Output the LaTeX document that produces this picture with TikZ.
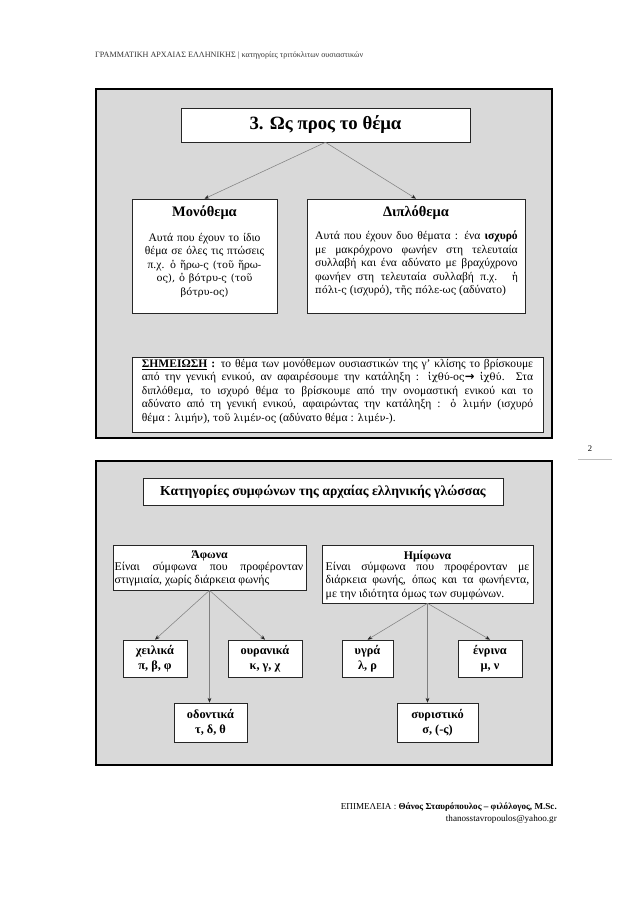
\documentclass[tikz,border=0pt]{standalone}
\usepackage{fontspec}
\setmainfont{Liberation Serif}
\newfontfamily\polyf{DejaVu Serif}[Scale=0.86]
\newfontfamily\symf{DejaVu Sans}
\usetikzlibrary{arrows.meta,fit}
\newcommand\pg[1]{{\polyf #1}}
\definecolor{panelgray}{RGB}{217,217,217}
\tikzset{
  panel/.style={draw=black, line width=1pt, fill=panelgray, inner sep=0pt},
  frame/.style={draw=black!85, line width=0.6pt, fill=white, inner sep=0pt},
  leaftext/.style={font=\bfseries\fontsize{11.5}{14}\selectfont, align=center, inner sep=0pt},
  conn/.style={draw=gray, line width=0.5pt, -{Stealth[length=4.5pt,width=3.5pt,color=black!85]}},
  ttl/.style={font=\bfseries\fontsize{13.5}{15}\selectfont, inner sep=0pt},
  ttltwo/.style={font=\bfseries\fontsize{11}{12}\selectfont, inner sep=0pt},
  body/.style={font=\fontsize{10.8}{12.6}\selectfont, inner sep=0pt, align=justify},
  bodytwo/.style={font=\fontsize{11}{12.4}\selectfont, inner sep=0pt, align=justify},
  small/.style={font=\fontsize{7.6}{8}\selectfont, inner sep=0pt}
}
\begin{document}
\begin{tikzpicture}[x=0.9331pt,y=-0.9331pt]
\useasboundingbox[fill=white] (0,0) rectangle (638,903);

% header
\node[small, anchor=west, text=black!80] (hdr) at (95,56) {ΓΡΑΜΜΑΤΙΚΗ ΑΡΧΑΙΑΣ ΕΛΛΗΝΙΚΗΣ | κατηγορίες τριτόκλιτων ουσιαστικών};

% ---------- panel 1 ----------
\node[panel, fit={(96,89)(552,438)}] (p1) {};
\node[frame, fit={(181,108)(470,142)}] (t1) {};
\node[font=\bfseries\fontsize{17.5}{19}\selectfont, inner sep=0pt] (t1txt) at (t1.center) {3. Ως προς το θέμα};

\node[frame, fit={(132,199)(277,313)}] (mono) {};
\node[ttl] (monot) at (204.5,213) {Μονόθεμα};
\node[body, align=center, text width=138pt, anchor=north] (monob) at (204.5,233)
 {Αυτά που έχουν το ίδιο\\ θέμα σε όλες τις πτώσεις\\ π.χ. \pg{ὁ ἥρω-ς (τοῦ ἥρω-}\\ \pg{ος), ὁ βότρυ-ς (τοῦ}\\ \pg{βότρυ-ος)}};

\node[frame, fit={(307,199)(525,313)}] (dipl) {};
\node[ttl] (diplt) at (416,213) {Διπλόθεμα};
\node[body, text width=189pt, anchor=north] (diplb) at (416.5,231)
 {Αυτά που έχουν δυο θέματα : ένα \textbf{ισχυρό}\linebreak
  με μακρόχρονο φωνήεν στη τελευταία\linebreak
  συλλαβή και ένα αδύνατο με βραχύχρονο\linebreak
  φωνήεν στη τελευταία συλλαβή π.χ. \pg{ἡ}\linebreak
  \pg{πόλι-ς} (ισχυρό), \pg{τῆς πόλε-ως} (αδύνατο)};

\node[frame, fit={(132,357)(543,432)}] (note) {};
\node[body, text width=365pt, anchor=north] (noteb) at (337.5,359)
 {\textbf{\underline{ΣΗΜΕΙΩΣΗ} :} το θέμα των μονόθεμων ουσιαστικών της γ' κλίσης το βρίσκουμε\linebreak
  από την γενική ενικού, αν αφαιρέσουμε την κατάληξη : \pg{ἰχθύ-ος}{\symf\bfseries →} \pg{ἰχθύ}. Στα\linebreak
  διπλόθεμα, το ισχυρό θέμα το βρίσκουμε από την ονομαστική ενικού και το\linebreak
  αδύνατο από τη γενική ενικού, αφαιρώντας την κατάληξη : \pg{ὁ λιμήν} (ισχυρό\linebreak
  θέμα : \pg{λιμήν}), \pg{τοῦ λιμέν-ος} (αδύνατο θέμα : \pg{λιμέν-}).};

\draw[conn] (t1.south) -- (mono.north);
\draw[conn] (t1.south) -- (dipl.north);

% page number
\node[font=\fontsize{8}{9}\selectfont, inner sep=0pt] (pnum) at (590,449) {2};
\coordinate (rl1) at (578,459);
\coordinate (rl2) at (612,459);
\draw[black!25, line width=0.4pt] (rl1) -- (rl2);

% ---------- panel 2 ----------
\node[panel, fit={(96,461)(552,765)}] (p2) {};
\node[frame, fit={(143,478)(503,505)}] (t2) {};
\node[font=\bfseries\fontsize{12.8}{14}\selectfont, inner sep=0pt] (t2txt) at (t2.center) {Κατηγορίες συμφώνων της αρχαίας ελληνικής γλώσσας};

\node[frame, fit={(113,545)(306,590)}] (afw) {};
\node[ttltwo] (afwt) at (209.5,556) {Άφωνα};
\node[bodytwo, text width=176pt, anchor=north] (afwb) at (209,562)
 {Είναι σύμφωνα που προφέρονταν\linebreak στιγμιαία, χωρίς διάρκεια φωνής};

\node[frame, fit={(322,545)(533,603)}] (hmi) {};
\node[ttltwo] (hmit) at (427.5,556) {Ημίφωνα};
\node[bodytwo, text width=190pt, anchor=north] (hmib) at (427.5,562)
 {Είναι σύμφωνα που προφέρονταν με\linebreak διάρκεια φωνής, όπως και τα φωνήεντα,\linebreak με την ιδιότητα όμως των συμφώνων.};

\node[frame, fit={(123,640)(187,677)}] (xeil) {};
\node[leaftext] (xeilt) at (xeil.center) {χειλικά\\π, β, φ};
\node[frame, fit={(228,640)(302,677)}] (oyr) {};
\node[leaftext] (oyrt) at (oyr.center) {ουρανικά\\κ, γ, χ};
\node[frame, fit={(174,703)(247,742)}] (odon) {};
\node[leaftext] (odont) at (odon.center) {οδοντικά\\τ, δ, θ};
\node[frame, fit={(342,640)(393,677)}] (ygr) {};
\node[leaftext] (ygrt) at (ygr.center) {υγρά\\λ, ρ};
\node[frame, fit={(458,640)(522,677)}] (enr) {};
\node[leaftext] (enrt) at (enr.center) {ένρινα\\μ, ν};
\node[frame, fit={(397,703)(478,742)}] (syr) {};
\node[leaftext] (syrt) at (syr.center) {συριστικό\\σ, (-ς)};

\draw[conn] (afw.south) -- (xeil.north);
\draw[conn] (afw.south) -- (afw.south |- odon.north);
\draw[conn] (afw.south) -- (oyr.north);
\draw[conn] (hmi.south) -- (ygr.north);
\draw[conn] (hmi.south) -- (hmi.south |- syr.north);
\draw[conn] (hmi.south) -- (enr.north);

% footer
\node[anchor=east, inner sep=0pt, font=\fontsize{8.5}{9}\selectfont] (ftr) at (557,807) {ΕΠΙΜΕΛΕΙΑ : \textbf{Θάνος Σταυρόπουλος – φιλόλογος, M.Sc.}};
\node[anchor=east, inner sep=0pt, font=\fontsize{8.5}{9}\selectfont] (mail) at (557,819) {thanosstavropoulos@yahoo.gr};
\end{tikzpicture}
\end{document}
